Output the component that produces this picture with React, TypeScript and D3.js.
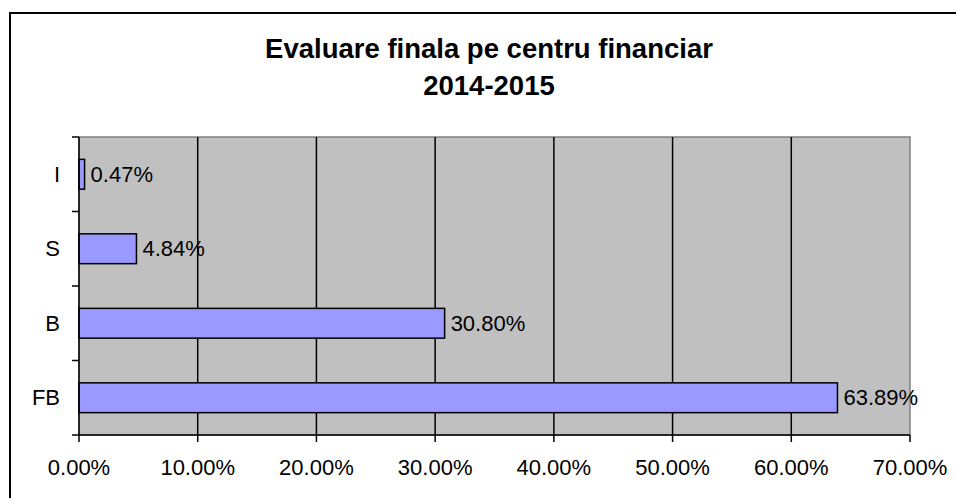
import React from "react";
import * as d3 from "d3";

const categories = ["FB", "B", "S", "I"];
const values = [0.6389, 0.308, 0.0484, 0.0047];
const valueLabels = ["63.89%", "30.80%", "4.84%", "0.47%"];
const xTicks = [0, 0.1, 0.2, 0.3, 0.4, 0.5, 0.6, 0.7];
const titleLines = ["Evaluare finala pe centru financiar", "2014-2015"];

const W = 956;
const H = 498;
const plot = { left: 79, right: 910, top: 137, bottom: 435 };
const FONT = "'Liberation Sans', Arial, sans-serif";
const LABEL_SIZE = 22;

export default function App() {
  const x = d3.scaleLinear().domain([0, 0.7]).range([plot.left, plot.right]);
  // top-to-bottom order: I, S, B, FB
  const order = [...categories].reverse();
  const y = d3
    .scaleBand<string>()
    .domain(order)
    .range([plot.top, plot.bottom])
    .paddingInner(0.6)
    .paddingOuter(0.3);
  const band = d3.scaleBand<string>().domain(order).range([plot.top, plot.bottom]);
  const fmt = d3.format(".2%");

  return (
    <svg
      width={W}
      height={H}
      style={{ position: "absolute", left: 0, top: 0, background: "#fff" }}
      fontFamily={FONT}
    >
      <rect x={10} y={13} width={960} height={500} fill="#fff" stroke="#000" strokeWidth={2} />
      {titleLines.map((t, i) => (
        <text
          key={i}
          x={489}
          y={58 + i * 37}
          textAnchor="middle"
          fontWeight="bold"
          fontSize={27.5}
          fill="#000"
        >
          {t}
        </text>
      ))}
      <rect
        x={plot.left}
        y={plot.top}
        width={plot.right - plot.left}
        height={plot.bottom - plot.top}
        fill="#C0C0C0"
        stroke="#808080"
        strokeWidth={1.5}
      />
      {xTicks.slice(1, -1).map((t) => (
        <line key={t} x1={x(t)} x2={x(t)} y1={plot.top} y2={plot.bottom} stroke="#000" strokeWidth={1.5} />
      ))}
      {categories.map((c, i) => (
        <g key={c}>
          <rect
            x={x(0)}
            y={y(c)}
            width={x(values[i]) - x(0)}
            height={y.bandwidth()}
            fill="#9999FF"
            stroke="#000"
            strokeWidth={1.5}
          />
          <text
            x={x(values[i]) + 6}
            y={(band(c) as number) + band.bandwidth() / 2}
            dominantBaseline="central"
            fontSize={LABEL_SIZE}
            fill="#000"
          >
            {valueLabels[i]}
          </text>
          <text
            x={60}
            y={(band(c) as number) + band.bandwidth() / 2}
            dominantBaseline="central"
            textAnchor="end"
            fontSize={LABEL_SIZE}
            fill="#000"
          >
            {c}
          </text>
        </g>
      ))}
      {/* y axis */}
      <line x1={plot.left} x2={plot.left} y1={plot.top} y2={plot.bottom} stroke="#000" strokeWidth={1.5} />
      {order.map((c) => (
        <line
          key={c}
          x1={plot.left - 7}
          x2={plot.left}
          y1={band(c) as number}
          y2={band(c) as number}
          stroke="#000"
          strokeWidth={1.5}
        />
      ))}
      <line x1={plot.left - 7} x2={plot.left} y1={plot.bottom} y2={plot.bottom} stroke="#000" strokeWidth={1.5} />
      {/* x axis */}
      <line x1={plot.left} x2={plot.right} y1={plot.bottom} y2={plot.bottom} stroke="#000" strokeWidth={1.5} />
      {xTicks.map((t) => (
        <g key={t}>
          <line x1={x(t)} x2={x(t)} y1={plot.bottom} y2={plot.bottom + 7} stroke="#000" strokeWidth={1.5} />
          <text x={x(t)} y={475} textAnchor="middle" fontSize={LABEL_SIZE} fill="#000">
            {fmt(t)}
          </text>
        </g>
      ))}
    </svg>
  );
}
